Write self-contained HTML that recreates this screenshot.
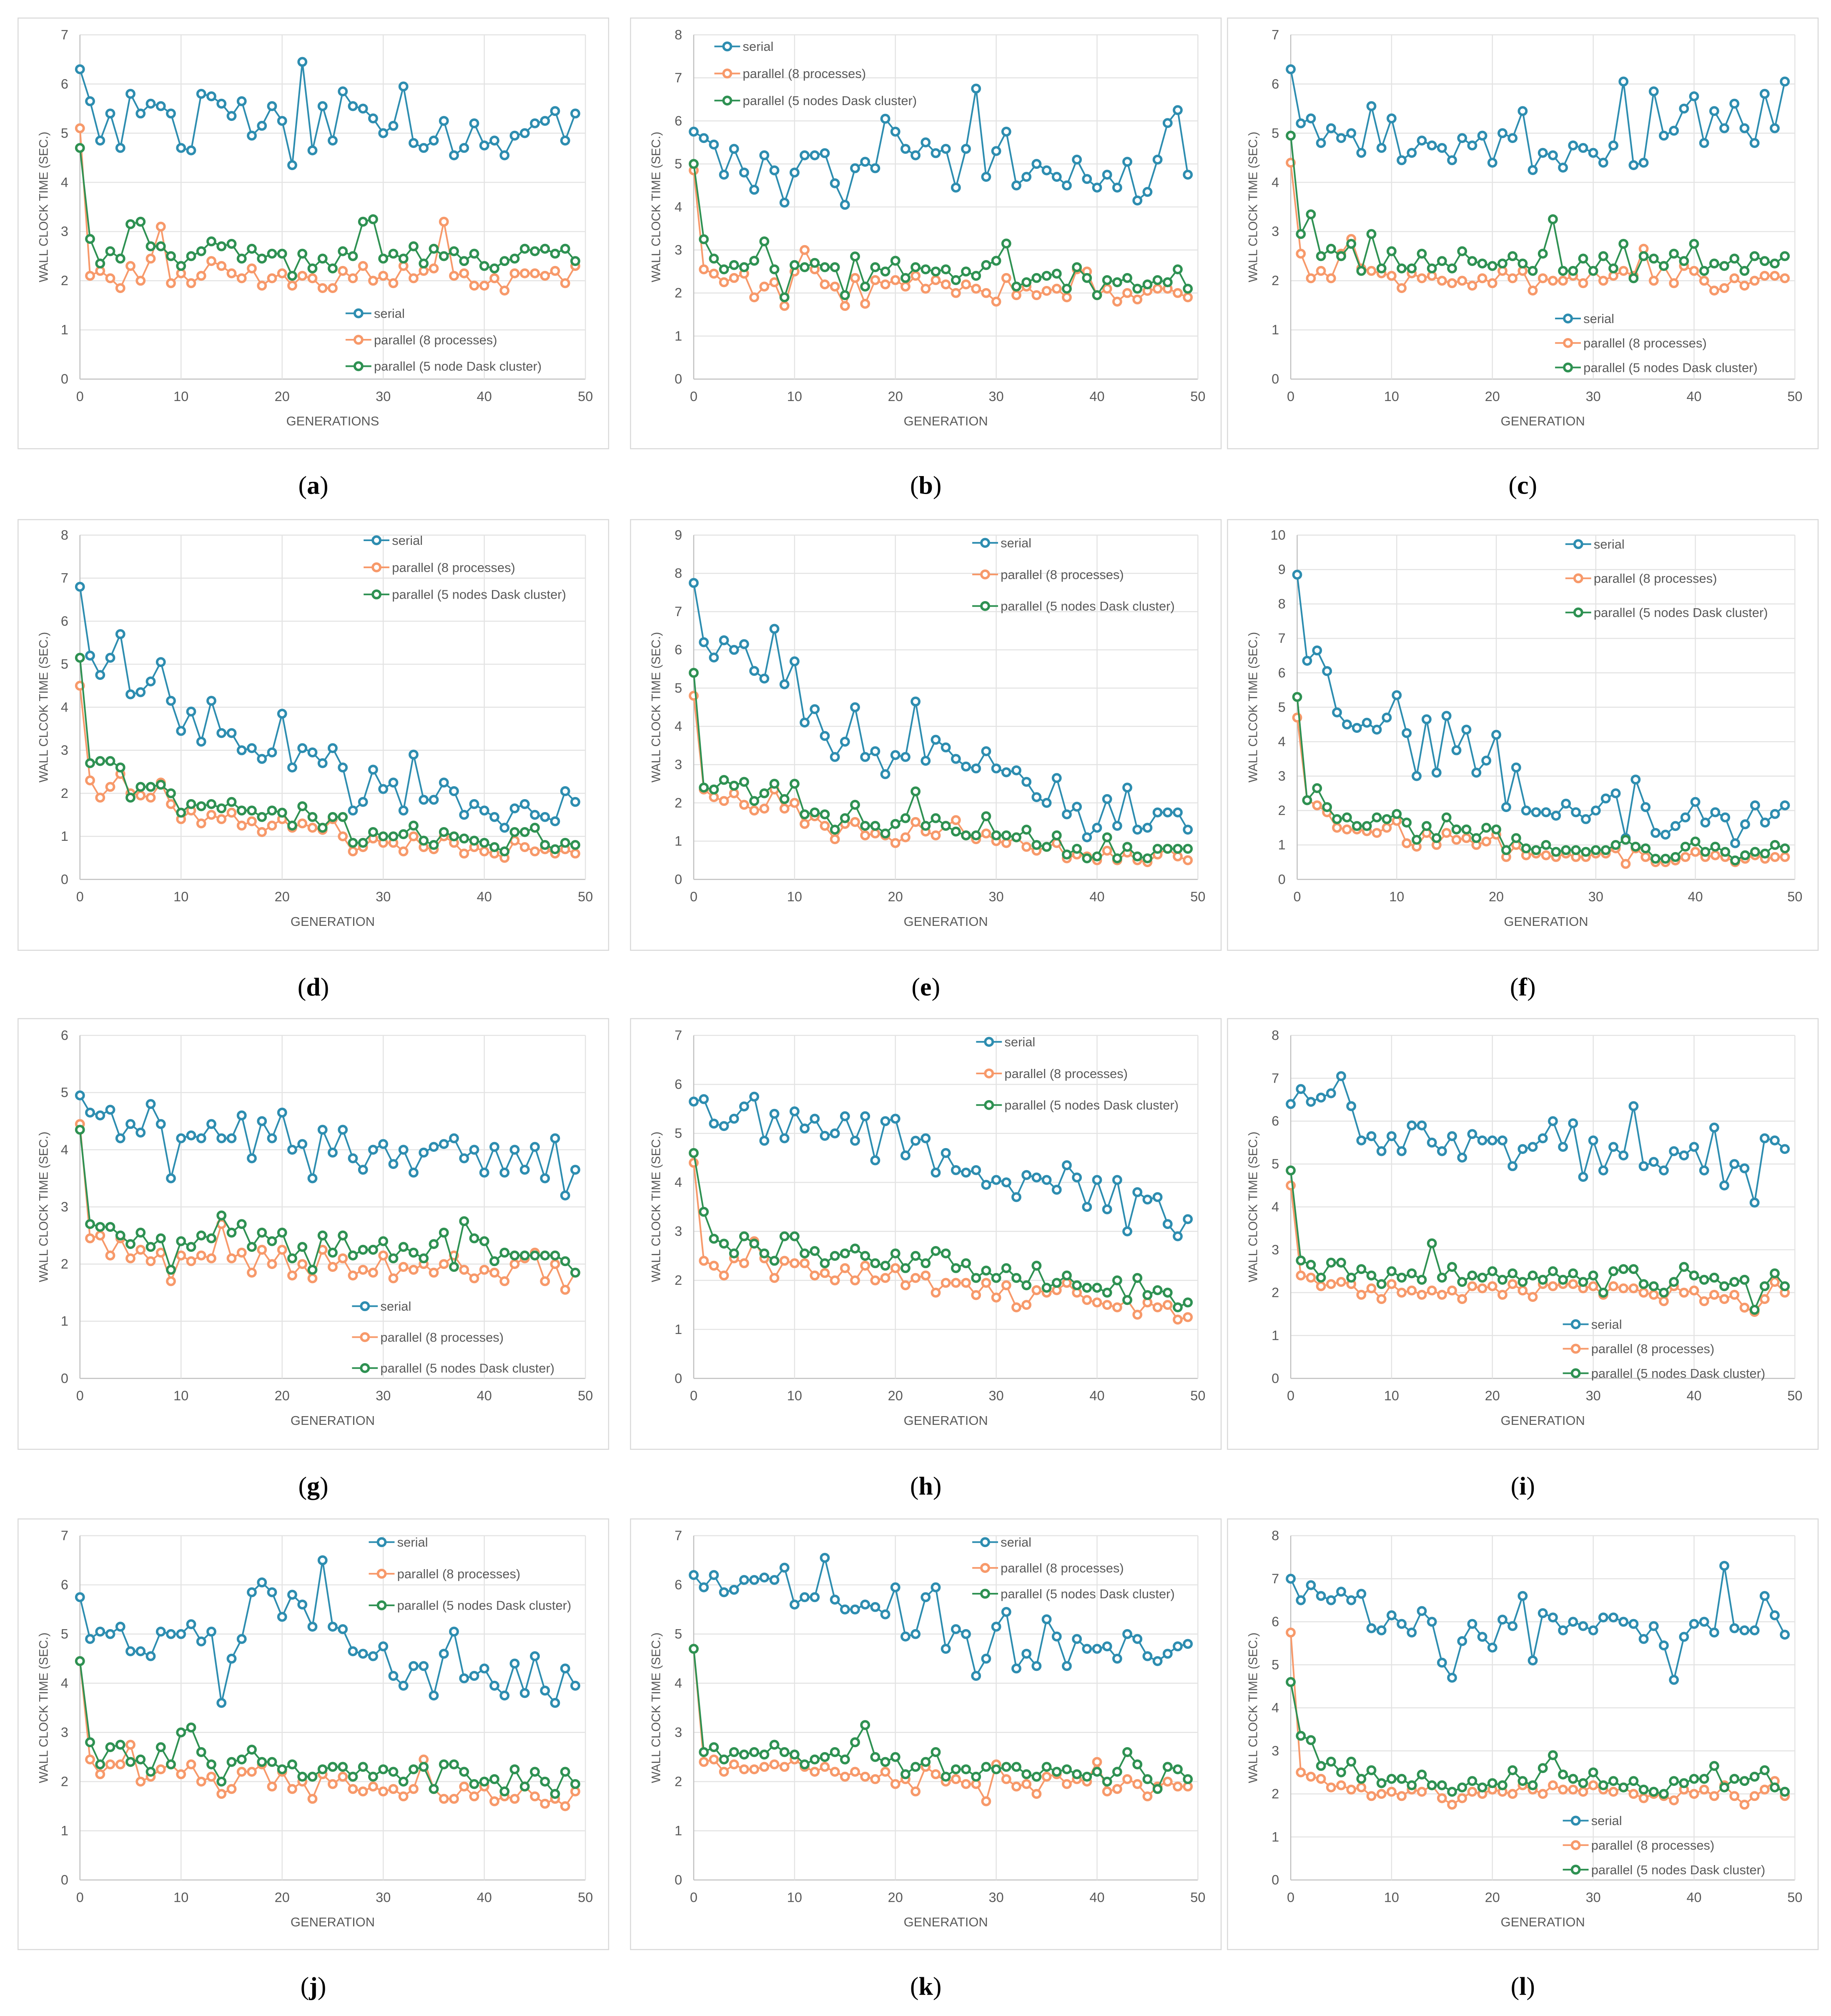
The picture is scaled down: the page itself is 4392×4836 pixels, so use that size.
<!DOCTYPE html>
<html><head><meta charset="utf-8"><style>
html,body{margin:0;padding:0;background:#fff}
svg{display:block}
text{font-family:"Liberation Sans",sans-serif}
</style></head><body>
<svg id="fig" width="4392" height="4836" viewBox="0 0 1420 1563.5" preserveAspectRatio="none" xmlns="http://www.w3.org/2000/svg"></svg>
<script>
const panelLetters=["a","b","c","d","e","f","g","h","i","j","k","l"];
const yMaxes=[7,8,7,8,9,10,6,7,8,7,7,8];
const xTickLabels=[0,10,20,30,40,50];
const seriesNames=["serial","parallel (8 processes)","parallel (5 nodes Dask cluster)"];
const serialA=[6.3,5.65,4.85,5.4,4.7,5.8,5.4,5.6,5.55,5.4,4.7,4.65,5.8,5.75,5.6,5.35,5.65,4.95,5.15,5.55,5.25,4.35,6.45,4.65,5.55,4.85,5.85,5.55,5.5,5.3,5.0,5.15,5.95,4.8,4.7,4.85,5.25,4.55,4.7,5.2,4.75,4.85,4.55,4.95,5.0,5.2,5.25,5.45,4.85,5.4];
const par8A=[5.1,2.1,2.2,2.05,1.85,2.3,2.0,2.45,3.1,1.95,2.15,1.95,2.1,2.4,2.3,2.15,2.05,2.25,1.9,2.05,2.15,1.9,2.1,2.05,1.85,1.85,2.2,2.05,2.3,2.0,2.1,1.95,2.3,2.05,2.2,2.25,3.2,2.1,2.15,1.9,1.9,2.05,1.8,2.15,2.15,2.15,2.1,2.2,1.95,2.3];
const daskA=[4.7,2.85,2.35,2.6,2.45,3.15,3.2,2.7,2.7,2.5,2.3,2.5,2.6,2.8,2.7,2.75,2.45,2.65,2.45,2.55,2.55,2.1,2.55,2.25,2.45,2.25,2.6,2.5,3.2,3.25,2.45,2.55,2.45,2.7,2.35,2.65,2.5,2.6,2.4,2.55,2.3,2.25,2.4,2.45,2.65,2.6,2.65,2.55,2.65,2.4];
const serialB=[5.75,5.6,5.45,4.75,5.35,4.8,4.4,5.2,4.85,4.1,4.8,5.2,5.2,5.25,4.55,4.05,4.9,5.05,4.9,6.05,5.75,5.35,5.2,5.5,5.25,5.35,4.45,5.35,6.75,4.7,5.3,5.75,4.5,4.7,5.0,4.85,4.7,4.5,5.1,4.65,4.45,4.75,4.45,5.05,4.15,4.35,5.1,5.95,6.25,4.75];
const par8B=[4.85,2.55,2.45,2.25,2.35,2.45,1.9,2.15,2.25,1.7,2.5,3.0,2.55,2.2,2.15,1.7,2.35,1.75,2.3,2.2,2.3,2.15,2.4,2.1,2.3,2.2,2.0,2.2,2.1,2.0,1.8,2.35,1.95,2.15,1.95,2.05,2.1,1.9,2.55,2.5,1.95,2.1,1.8,2.0,1.85,2.05,2.1,2.1,2.0,1.9];
const daskB=[5.0,3.25,2.8,2.55,2.65,2.6,2.75,3.2,2.55,1.9,2.65,2.6,2.7,2.6,2.6,1.95,2.85,2.15,2.6,2.5,2.75,2.35,2.6,2.55,2.5,2.55,2.3,2.5,2.4,2.65,2.75,3.15,2.15,2.25,2.35,2.4,2.45,2.1,2.6,2.35,1.95,2.3,2.25,2.35,2.1,2.2,2.3,2.25,2.55,2.1];
const serialC=[6.3,5.2,5.3,4.8,5.1,4.9,5.0,4.6,5.55,4.7,5.3,4.45,4.6,4.85,4.75,4.7,4.45,4.9,4.75,4.95,4.4,5.0,4.9,5.45,4.25,4.6,4.55,4.3,4.75,4.7,4.6,4.4,4.75,6.05,4.35,4.4,5.85,4.95,5.05,5.5,5.75,4.8,5.45,5.1,5.6,5.1,4.8,5.8,5.1,6.05];
const par8C=[4.4,2.55,2.05,2.2,2.05,2.55,2.85,2.25,2.2,2.15,2.1,1.85,2.15,2.05,2.1,2.0,1.95,2.0,1.9,2.05,1.95,2.2,2.05,2.2,1.8,2.05,2.0,2.0,2.1,1.95,2.2,2.0,2.1,2.2,2.1,2.65,2.0,2.3,1.95,2.3,2.2,2.0,1.8,1.85,2.05,1.9,2.0,2.1,2.1,2.05];
const daskC=[4.95,2.95,3.35,2.5,2.65,2.5,2.75,2.2,2.95,2.25,2.6,2.25,2.25,2.55,2.25,2.4,2.25,2.6,2.4,2.35,2.3,2.35,2.5,2.35,2.2,2.55,3.25,2.2,2.2,2.45,2.2,2.5,2.25,2.75,2.05,2.5,2.45,2.3,2.55,2.4,2.75,2.2,2.35,2.3,2.45,2.2,2.5,2.4,2.35,2.5];
const serialD=[6.8,5.2,4.75,5.15,5.7,4.3,4.35,4.6,5.05,4.15,3.45,3.9,3.2,4.15,3.4,3.4,3.0,3.05,2.8,2.95,3.85,2.6,3.05,2.95,2.7,3.05,2.6,1.6,1.8,2.55,2.1,2.25,1.6,2.9,1.85,1.85,2.25,2.05,1.5,1.75,1.6,1.45,1.2,1.65,1.75,1.5,1.45,1.35,2.05,1.8];
const par8D=[4.5,2.3,1.9,2.15,2.45,2.0,1.95,1.9,2.25,1.75,1.4,1.6,1.3,1.5,1.4,1.55,1.25,1.35,1.1,1.25,1.4,1.2,1.3,1.2,1.15,1.4,1.0,0.65,0.75,0.95,0.85,0.85,0.65,1.0,0.75,0.7,1.0,0.85,0.6,0.75,0.65,0.6,0.5,0.9,0.75,0.65,0.7,0.6,0.7,0.6];
const daskD=[5.15,2.7,2.75,2.75,2.6,1.9,2.15,2.15,2.2,2.0,1.55,1.75,1.7,1.75,1.65,1.8,1.6,1.6,1.45,1.6,1.55,1.25,1.7,1.45,1.2,1.45,1.45,0.85,0.85,1.1,1.0,1.0,1.05,1.25,0.9,0.8,1.1,1.0,0.95,0.9,0.85,0.75,0.65,1.1,1.1,1.2,0.8,0.7,0.85,0.8];
const serialE=[7.75,6.2,5.8,6.25,6.0,6.15,5.45,5.25,6.55,5.1,5.7,4.1,4.45,3.75,3.2,3.6,4.5,3.2,3.35,2.75,3.25,3.2,4.65,3.1,3.65,3.45,3.15,2.95,2.9,3.35,2.9,2.8,2.85,2.55,2.15,2.0,2.65,1.7,1.9,1.1,1.35,2.1,1.4,2.4,1.3,1.35,1.75,1.75,1.75,1.3];
const par8E=[4.8,2.35,2.15,2.05,2.25,1.95,1.8,1.85,2.35,1.85,2.0,1.45,1.65,1.4,1.05,1.45,1.5,1.15,1.2,1.15,0.95,1.1,1.5,1.25,1.15,1.4,1.55,1.15,1.05,1.2,1.0,0.95,1.1,0.85,0.75,0.85,0.95,0.55,0.65,0.6,0.5,0.75,0.5,0.7,0.5,0.45,0.65,0.8,0.6,0.5];
const daskE=[5.4,2.4,2.35,2.6,2.45,2.55,2.05,2.25,2.5,2.1,2.5,1.7,1.75,1.7,1.3,1.6,1.95,1.4,1.4,1.2,1.45,1.6,2.3,1.4,1.6,1.4,1.25,1.15,1.15,1.65,1.15,1.15,1.1,1.3,0.9,0.85,1.15,0.65,0.8,0.55,0.6,1.1,0.55,0.85,0.6,0.55,0.8,0.8,0.8,0.8];
const serialF=[8.85,6.35,6.65,6.05,4.85,4.5,4.4,4.55,4.35,4.7,5.35,4.25,3.0,4.65,3.1,4.75,3.75,4.35,3.1,3.45,4.2,2.1,3.25,2.0,1.95,1.95,1.85,2.2,1.95,1.75,2.0,2.35,2.5,1.2,2.9,2.1,1.35,1.3,1.55,1.8,2.25,1.65,1.95,1.8,1.05,1.6,2.15,1.65,1.9,2.15];
const par8F=[4.7,2.3,2.15,1.95,1.5,1.45,1.45,1.4,1.35,1.5,1.7,1.05,0.95,1.35,1.0,1.35,1.15,1.2,1.0,1.1,1.3,0.65,1.0,0.7,0.75,0.7,0.65,0.75,0.65,0.65,0.75,0.75,0.9,0.45,0.9,0.65,0.5,0.5,0.55,0.65,0.8,0.65,0.7,0.65,0.5,0.6,0.7,0.6,0.65,0.65];
const daskF=[5.3,2.3,2.65,2.1,1.75,1.8,1.55,1.55,1.8,1.75,1.9,1.65,1.15,1.55,1.2,1.8,1.45,1.45,1.2,1.5,1.45,0.85,1.2,0.9,0.85,1.0,0.8,0.85,0.85,0.8,0.85,0.85,1.0,1.15,0.95,0.9,0.6,0.6,0.65,0.95,1.1,0.8,0.95,0.8,0.55,0.7,0.8,0.75,1.0,0.9];
const serialG=[4.95,4.65,4.6,4.7,4.2,4.45,4.3,4.8,4.45,3.5,4.2,4.25,4.2,4.45,4.2,4.2,4.6,3.85,4.5,4.2,4.65,4.0,4.1,3.5,4.35,3.95,4.35,3.85,3.65,4.0,4.1,3.75,4.0,3.6,3.95,4.05,4.1,4.2,3.85,4.0,3.6,4.05,3.6,4.0,3.65,4.05,3.5,4.2,3.2,3.65];
const par8G=[4.45,2.45,2.5,2.15,2.45,2.1,2.25,2.05,2.2,1.7,2.15,2.05,2.15,2.1,2.7,2.1,2.2,1.85,2.25,2.0,2.25,1.8,2.0,1.75,2.25,1.95,2.1,1.8,1.9,1.85,2.15,1.75,1.95,1.9,2.0,1.85,2.0,2.15,1.9,1.75,1.9,1.85,1.7,2.0,2.1,2.2,1.7,2.0,1.55,1.85];
const daskG=[4.35,2.7,2.65,2.65,2.5,2.35,2.55,2.3,2.45,1.9,2.4,2.3,2.5,2.45,2.85,2.55,2.7,2.3,2.55,2.4,2.55,2.1,2.3,1.9,2.5,2.2,2.5,2.15,2.25,2.25,2.4,2.1,2.3,2.2,2.1,2.35,2.55,1.95,2.75,2.45,2.4,2.05,2.2,2.15,2.15,2.15,2.15,2.15,2.05,1.85];
const serialH=[5.65,5.7,5.2,5.15,5.3,5.55,5.75,4.85,5.4,4.9,5.45,5.1,5.3,4.95,5.0,5.35,4.85,5.35,4.45,5.25,5.3,4.55,4.85,4.9,4.2,4.6,4.25,4.2,4.25,3.95,4.05,4.0,3.7,4.15,4.1,4.05,3.85,4.35,4.1,3.5,4.05,3.45,4.05,3.0,3.8,3.65,3.7,3.15,2.9,3.25];
const par8H=[4.4,2.4,2.3,2.1,2.45,2.35,2.8,2.45,2.05,2.4,2.35,2.35,2.1,2.15,2.0,2.25,2.0,2.3,2.0,2.05,2.25,1.9,2.05,2.1,1.75,1.95,1.95,1.95,1.7,1.95,1.65,1.9,1.45,1.5,1.8,1.75,1.8,1.95,1.75,1.6,1.55,1.5,1.45,1.6,1.3,1.55,1.45,1.5,1.2,1.25];
const daskH=[4.6,3.4,2.85,2.75,2.55,2.9,2.75,2.55,2.4,2.9,2.9,2.55,2.6,2.35,2.5,2.55,2.65,2.5,2.35,2.3,2.55,2.25,2.5,2.35,2.6,2.55,2.25,2.35,2.05,2.2,2.05,2.25,2.05,1.9,2.3,1.85,1.95,2.1,1.9,1.85,1.85,1.75,2.0,1.6,2.05,1.7,1.8,1.75,1.45,1.55];
const serialI=[6.4,6.75,6.45,6.55,6.65,7.05,6.35,5.55,5.65,5.3,5.65,5.3,5.9,5.9,5.5,5.3,5.65,5.15,5.7,5.55,5.55,5.55,4.95,5.35,5.4,5.6,6.0,5.4,5.95,4.7,5.55,4.85,5.4,5.2,6.35,4.95,5.05,4.85,5.3,5.2,5.4,4.85,5.85,4.5,5.0,4.9,4.1,5.6,5.55,5.35];
const par8I=[4.5,2.4,2.35,2.15,2.2,2.25,2.2,1.95,2.1,1.85,2.2,2.0,2.05,1.95,2.05,1.95,2.05,1.85,2.15,2.1,2.15,1.95,2.2,2.05,1.9,2.2,2.15,2.2,2.2,2.1,2.15,1.95,2.15,2.1,2.1,2.0,1.95,1.8,2.15,2.0,2.05,1.8,1.95,1.85,1.95,1.65,1.55,1.85,2.25,2.0];
const daskI=[4.85,2.75,2.65,2.35,2.7,2.7,2.35,2.55,2.4,2.2,2.5,2.35,2.45,2.3,3.15,2.35,2.6,2.25,2.4,2.35,2.5,2.3,2.45,2.25,2.4,2.3,2.5,2.3,2.45,2.25,2.4,2.0,2.5,2.55,2.55,2.2,2.15,2.0,2.25,2.6,2.4,2.3,2.35,2.15,2.25,2.3,1.6,2.15,2.45,2.15];
const serialJ=[5.75,4.9,5.05,5.0,5.15,4.65,4.65,4.55,5.05,5.0,5.0,5.2,4.85,5.05,3.6,4.5,4.9,5.85,6.05,5.85,5.35,5.8,5.6,5.15,6.5,5.15,5.1,4.65,4.6,4.55,4.75,4.15,3.95,4.35,4.35,3.75,4.6,5.05,4.1,4.15,4.3,3.95,3.75,4.4,3.8,4.55,3.85,3.6,4.3,3.95];
const par8J=[4.45,2.45,2.15,2.35,2.35,2.75,2.0,2.1,2.25,2.35,2.15,2.35,2.0,2.1,1.75,1.85,2.2,2.2,2.35,1.9,2.2,1.85,2.0,1.65,2.15,1.95,2.1,1.85,1.8,1.9,1.8,1.85,1.7,1.85,2.45,1.85,1.65,1.65,1.9,1.7,1.9,1.6,1.7,1.65,1.9,1.7,1.55,1.65,1.5,1.8];
const daskJ=[4.45,2.8,2.35,2.7,2.75,2.4,2.45,2.2,2.7,2.35,3.0,3.1,2.6,2.35,2.0,2.4,2.45,2.65,2.4,2.4,2.25,2.35,2.1,2.1,2.25,2.3,2.3,2.1,2.3,2.1,2.25,2.2,2.0,2.25,2.3,1.85,2.35,2.35,2.2,1.95,2.0,2.05,1.8,2.25,1.9,2.2,2.0,1.75,2.2,1.95];
const serialK=[6.2,5.95,6.2,5.85,5.9,6.1,6.1,6.15,6.1,6.35,5.6,5.75,5.75,6.55,5.7,5.5,5.5,5.6,5.55,5.4,5.95,4.95,5.0,5.75,5.95,4.7,5.1,5.0,4.15,4.5,5.15,5.45,4.3,4.6,4.35,5.3,4.95,4.35,4.9,4.7,4.7,4.75,4.5,5.0,4.9,4.55,4.45,4.6,4.75,4.8];
const par8K=[4.7,2.4,2.45,2.2,2.35,2.25,2.25,2.3,2.35,2.3,2.45,2.3,2.2,2.3,2.2,2.1,2.2,2.1,2.05,2.2,1.95,2.05,1.8,2.3,2.15,2.0,2.05,1.95,1.95,1.6,2.35,2.05,1.9,1.95,1.75,2.1,2.15,1.95,2.05,2.0,2.4,1.8,1.85,2.05,1.95,1.7,1.9,2.0,1.9,1.9];
const daskK=[4.7,2.6,2.7,2.45,2.6,2.55,2.6,2.55,2.75,2.6,2.55,2.35,2.45,2.5,2.6,2.45,2.8,3.15,2.5,2.4,2.5,2.15,2.3,2.4,2.6,2.1,2.25,2.25,2.1,2.3,2.25,2.3,2.3,2.15,2.1,2.3,2.2,2.25,2.15,2.1,2.2,2.0,2.2,2.6,2.35,2.05,1.85,2.3,2.25,2.05];
const serialL=[7.0,6.5,6.85,6.6,6.5,6.7,6.5,6.65,5.85,5.8,6.15,5.95,5.75,6.25,6.0,5.05,4.7,5.55,5.95,5.65,5.4,6.05,5.9,6.6,5.1,6.2,6.1,5.8,6.0,5.9,5.8,6.1,6.1,6.0,5.95,5.6,5.9,5.45,4.65,5.65,5.95,6.0,5.75,7.3,5.85,5.8,5.8,6.6,6.15,5.7];
const par8L=[5.75,2.5,2.4,2.35,2.15,2.2,2.1,2.15,1.95,2.0,2.05,1.95,2.1,2.05,2.2,1.9,1.75,1.9,2.05,2.0,2.1,2.05,2.0,2.2,2.1,2.0,2.2,2.1,2.1,2.05,2.2,2.1,2.05,2.15,2.0,1.9,2.0,1.95,1.85,2.1,2.0,2.1,1.95,2.2,1.95,1.75,1.95,2.1,2.3,1.95];
const daskL=[4.6,3.35,3.25,2.65,2.75,2.5,2.75,2.35,2.55,2.25,2.35,2.35,2.2,2.45,2.2,2.2,2.05,2.15,2.3,2.15,2.25,2.2,2.55,2.3,2.2,2.6,2.9,2.45,2.35,2.25,2.5,2.2,2.3,2.15,2.3,2.1,2.05,2.0,2.3,2.25,2.35,2.35,2.65,2.15,2.35,2.3,2.4,2.55,2.15,2.05];

const allSeries=[[serialA,par8A,daskA],[serialB,par8B,daskB],[serialC,par8C,daskC],[serialD,par8D,daskD],[serialE,par8E,daskE],[serialF,par8F,daskF],[serialG,par8G,daskG],[serialH,par8H,daskH],[serialI,par8I,daskI],[serialJ,par8J,daskJ],[serialK,par8K,daskK],[serialL,par8L,daskL]];

const NS="http://www.w3.org/2000/svg";
const svg=document.getElementById('fig');
const colors=["#2d8db0","#f7996a","#2e9152"];
const colBoxX=[14,489,952], colX0=[62,538,1001], colX1=[454,929,1392];
const rowBoxY=[14,403,790,1178], rowY0=[294,682,1069,1458], rowYT=[27,415,803,1191];
const legendPos=[[268,243,20.5],[554,36,21],[1206,247,19],[282,419,21],[754,421,24.5],[1214,422,26.5],[273,1013,24],[757,808,24.5],[1212,1027,19],[286,1196,24.5],[754,1196,20],[1212,1412,19]];
function mk(tag,attrs,parent){const e=document.createElementNS(NS,tag);for(const k in attrs)e.setAttribute(k,attrs[k]);(parent||svg).appendChild(e);return e;}

for(let p=0;p<12;p++){
  const c=p%3,r=Math.floor(p/3);
  const g=mk('g',{});
  
  
  const box=mk('rect',{x:colBoxX[c],y:rowBoxY[r],width:458,height:334,fill:'#fff',stroke:'#d9d9d9','stroke-width':0.8},g);
  
  
  const x0=colX0[c]+(p===5?5:0), x1=colX1[c], y0=rowY0[r], yT=rowYT[r], ymax=yMaxes[p];
  const xs=v=>x0+(x1-x0)*v/50, ys=v=>y0-(y0-yT)*v/ymax;
  for(let t=0;t<=ymax;t++){
    const l=mk('line',{x1:x0,x2:x1,y1:ys(t),y2:ys(t),stroke:t===0?'#bfbfbf':'#e3e3e3','stroke-width':0.8},g);
    
    
    const tx=mk('text',{x:x0-9,y:ys(t)+3.5,'font-size':10.5,fill:'#595959','text-anchor':'end'},g);
    tx.textContent=t;
    
    
  }
  xTickLabels.forEach(t=>{
    const l=mk('line',{x1:xs(t),x2:xs(t),y1:yT,y2:y0,stroke:t===0?'#bfbfbf':'#e3e3e3','stroke-width':0.8},g);
    
    
    const tx=mk('text',{x:xs(t),y:y0+17,'font-size':10.5,fill:'#595959','text-anchor':'middle'},g);
    tx.textContent=t;
    
    
  });
  const xt=mk('text',{x:(x0+x1)/2,y:y0+36,'font-size':10,fill:'#595959','text-anchor':'middle'},g);
  xt.textContent=p===0?'GENERATIONS':'GENERATION';
  
  
  const ym=(y0+yT)/2, yx=colBoxX[c]+23;
  const yt=mk('text',{x:yx,y:ym,'font-size':9.5,fill:'#595959','text-anchor':'middle',transform:`rotate(-90 ${yx} ${ym})`},g);
  yt.textContent=(p===3||p===5)?'WALL CLCOK TIME (SEC.)':'WALL CLOCK TIME (SEC.)';
  
  
  for(let s=0;s<3;s++){
    const d=allSeries[p][s];
    const pts=d.map((v,i)=>xs(i).toFixed(2)+','+ys(v).toFixed(2)).join(' ');
    const pl=mk('polyline',{points:pts,fill:'none',stroke:colors[s],'stroke-width':1.3},g);
    
    
    d.forEach((v,i)=>{
      const ci=mk('circle',{cx:xs(i),cy:ys(v),r:2.9,fill:'#fff',stroke:colors[s],'stroke-width':1.9},g);
      
      
    });
  }
  const [lx,ly,ld]=legendPos[p];
  for(let s=0;s<3;s++){
    const yy=ly+ld*s;
    const lg=mk('g',{},g);
    
    
    mk('line',{x1:lx,x2:lx+20,y1:yy,y2:yy,stroke:colors[s],'stroke-width':1.3},lg);
    mk('circle',{cx:lx+10,cy:yy,r:2.9,fill:'#fff',stroke:colors[s],'stroke-width':1.9},lg);
    const t=mk('text',{x:lx+22,y:yy+3.5,'font-size':10,fill:'#595959'},lg);
    t.textContent=(s===2&&p===0)?'parallel (5 node Dask cluster)':seriesNames[s];
  }
  const lab=mk('text',{x:colBoxX[c]+229,y:rowBoxY[r]+369,'font-size':20,fill:'#000','text-anchor':'middle',style:'font-family:"Liberation Serif",serif'},g);
  
  
  lab.innerHTML='(<tspan font-weight="bold">'+panelLetters[p]+'</tspan>)';
}
</script>
</body></html>
